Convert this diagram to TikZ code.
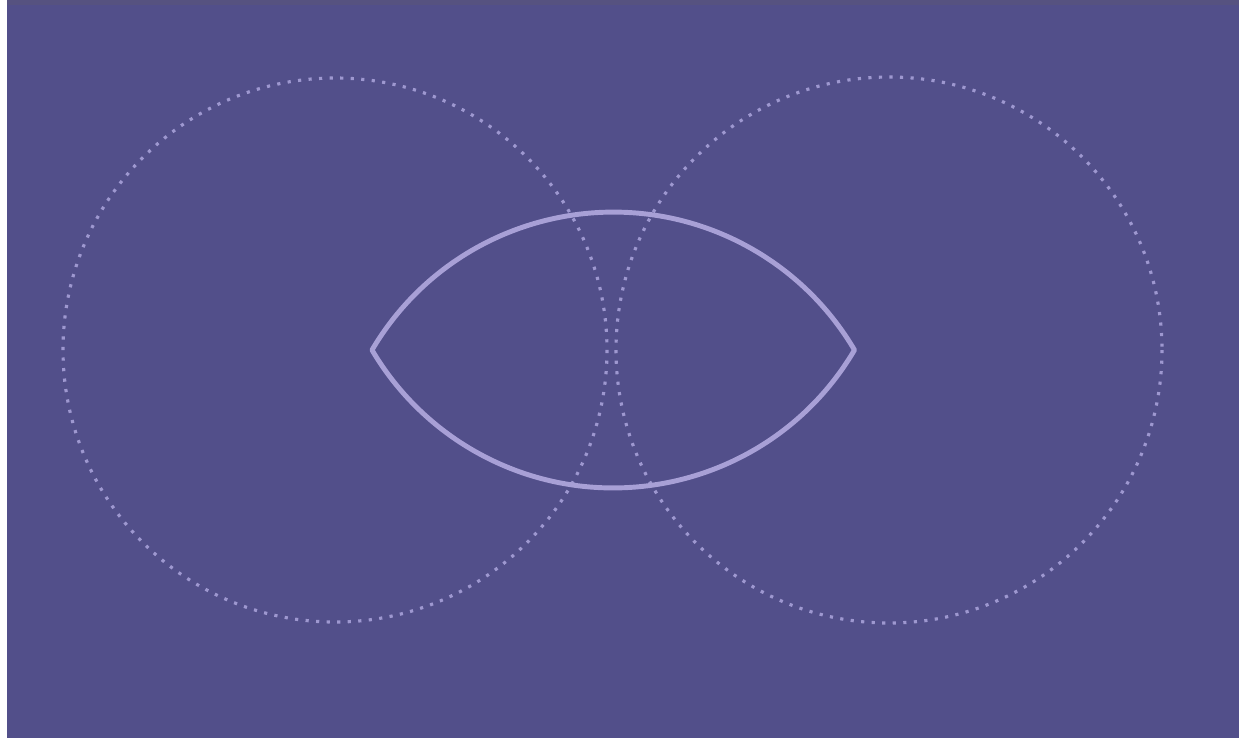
\documentclass[tikz,border=0pt]{standalone}
\usepackage{tikz}
\definecolor{bgcolor}{RGB}{82,79,138}
\definecolor{topband}{RGB}{86,82,128}
\definecolor{ringcolor}{RGB}{158,152,208}
\definecolor{lenscolor}{RGB}{168,160,214}
\begin{document}
\begin{tikzpicture}[x=0.01cm,y=-0.01cm,
  ring/.style={ringcolor,line width=0.9pt,dash pattern=on 0.9pt off 2.1pt},
  lens/.style={lenscolor,line width=1.4pt,line join=round}
]
\useasboundingbox (0,0) rectangle (1239,738);
\fill[bgcolor] (0,0) rectangle (1239,738);
\fill[white] (0,0) rectangle (7,738);
\fill[topband] (7,0) rectangle (1239,5);
\coordinate (L) at (335,350);
\coordinate (R) at (889,350);
% dotted circles
\draw[ring] (L) circle[radius=272];
\draw[ring] (R) circle[radius=273];
% lens
\coordinate (tipW) at (372,350);
\coordinate (tipE) at (855,350);
\draw[lens] (tipW) arc[start angle=210.5,end angle=329.5,radius=280]
  arc[start angle=30.5,end angle=149.5,radius=280] -- cycle;
\end{tikzpicture}
\end{document}
